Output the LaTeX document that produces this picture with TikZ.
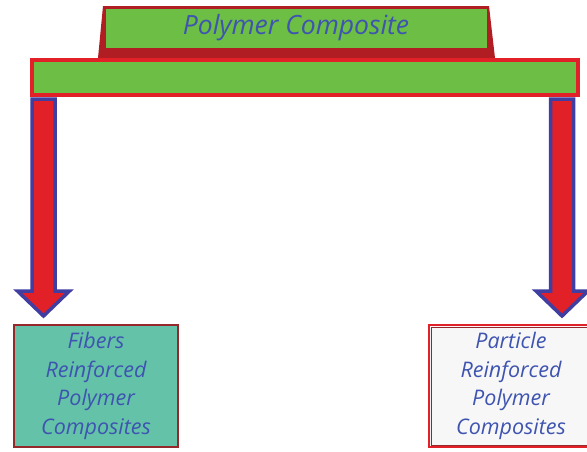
\documentclass[tikz,border=0pt]{standalone}
\usepackage{fontspec}
\setmainfont{Open Sans}
\usetikzlibrary{calc}

\definecolor{barGreen}{RGB}{108,190,69}
\definecolor{barRed}{RGB}{226,32,40}
\definecolor{shadeRed}{RGB}{176,30,36}
\definecolor{textBlue}{RGB}{62,84,176}
\definecolor{arrowBlue}{RGB}{64,62,160}
\definecolor{fiberTeal}{RGB}{100,194,168}
\definecolor{boxRed}{RGB}{150,40,44}

\tikzset{
  labeltext/.style={text=textBlue, font=\itshape\fontsize{21.5}{28.5}\selectfont, align=center},
  resultbox/.style={draw=boxRed, line width=2pt, minimum width=164pt, minimum height=122pt, anchor=north west, inner sep=0pt},
  arrowbody/.style={draw=arrowBlue, line width=3.5pt, fill=barRed, line join=miter},
}

% block arrow from top centre #1 down to tip #2
\newcommand{\blockarrow}[2]{%
  \draw[arrowbody] let \p1=(#1), \p2=(#2) in
    (\x1-11.5pt,\y1) -- (\x1+11.5pt,\y1) -- (\x1+11.5pt,\y2+25pt) -- (\x1+26pt,\y2+25pt)
    -- (\x2,\y2) -- (\x1-26pt,\y2+25pt) -- (\x1-11.5pt,\y2+25pt) -- cycle;}

\begin{document}
\begin{tikzpicture}[x=1pt,y=-1pt]
        \useasboundingbox (0,0) rectangle (587,451);
        % title slab
        \fill[shadeRed] (103,6) -- (489,6) -- (495,58) -- (98,58) -- cycle;
        \node[fill=barGreen, minimum width=381pt, minimum height=39pt, inner sep=0pt] (title) at (296,28)
          {\color{textBlue}\itshape\fontsize{26.5}{30}\selectfont Polymer Composite};
        % cross bar
        \node[draw=barRed, fill=barGreen, line width=4pt, minimum width=546pt, minimum height=35pt, inner sep=0pt] (bar) at (305,77.5) {};
        % result boxes
        \node[resultbox, fill=fiberTeal] (fiber) at (13,324) {};
        \node[labeltext] at (fiber.center) {Fibers\\Reinforced\\Polymer\\Composites};
        \node[resultbox, fill=white!97!black, draw=barRed] (particle) at (428,324) {};
        \draw[boxRed, line width=0.8pt] ($(particle.north west)+(3,3)$) rectangle ($(particle.south east)+(-3,-3)$);
        \node[labeltext] at (particle.center) {Particle\\Reinforced\\Polymer\\Composites};
        % arrows
        \coordinate (lstart) at ($(bar.south west)+(13.5,2)$);
        \coordinate (rstart) at ($(bar.south east)+(-18,2)$);
        \coordinate (ltip) at (lstart |- 0,316);
        \coordinate (rtip) at (rstart |- 0,316);
        \blockarrow{lstart}{ltip}
        \blockarrow{rstart}{rtip}
\end{tikzpicture}
\end{document}
